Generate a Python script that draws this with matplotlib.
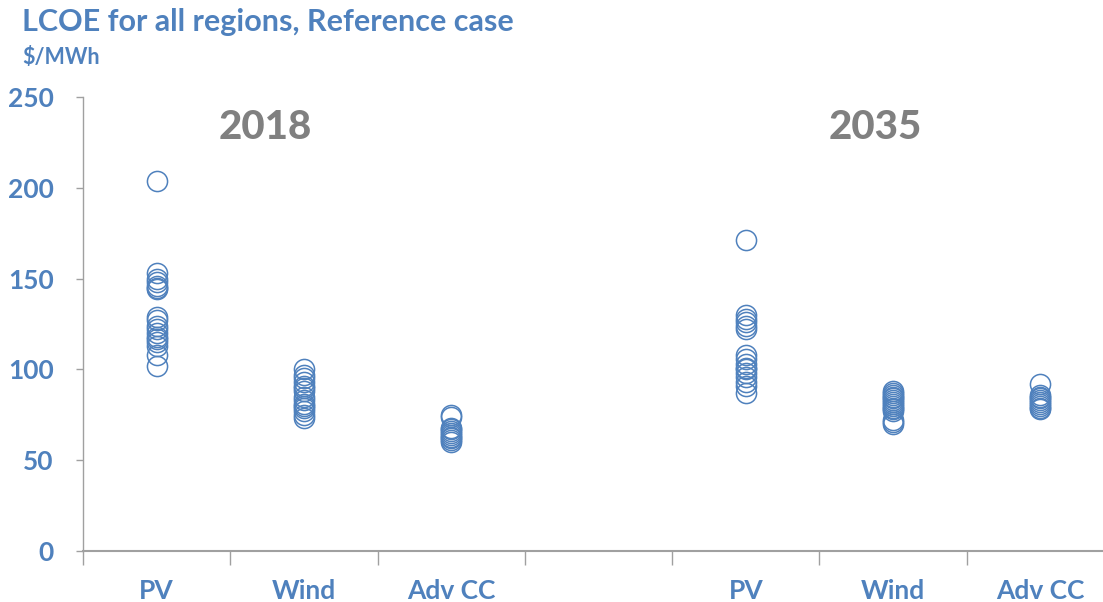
import matplotlib
matplotlib.use("Agg")
import matplotlib.pyplot as plt
import numpy as np

categories = ["PV", "Wind", "Adv CC", "", "PV", "Wind", "Adv CC"]
pv_2018 = [204, 153, 150, 148, 146, 145, 144, 129, 127, 124, 122, 120, 118, 117, 115, 113, 108, 102]
wind_2018 = [100, 97, 95, 93, 91, 90, 88, 85, 83, 81, 80, 79, 77, 75, 73]
advcc_2018 = [75, 74, 68, 67, 66, 65, 64, 63, 62, 61, 60]
pv_2035 = [171, 130, 128, 126, 124, 122, 108, 106, 103, 101, 100, 98, 96, 93, 91, 87]
wind_2035 = [88, 87, 86, 85, 84, 83, 82, 81, 80, 79, 78, 77, 72, 71, 70]
advcc_2035 = [92, 86, 85, 84, 83, 82, 81, 80, 79, 78]
groups = [pv_2018, wind_2018, advcc_2018, None, pv_2035, wind_2035, advcc_2035]
year_labels = ["2018", "2035"]
yticks = [0, 50, 100, 150, 200, 250]

blue = "#4F81BD"
gray_txt = "#808080"
font = ["Lato", "DejaVu Sans"]

fig = plt.figure(figsize=(11.03, 6.02), dpi=100)
ax = fig.add_axes([83/1103, 51/602, 1031/1103, 454/602])

for i, vals in enumerate(groups):
    if vals is None:
        continue
    ax.plot([i]*len(vals), vals, linestyle="none", marker="o", markersize=14.5,
            markerfacecolor="none", markeredgecolor=blue, markeredgewidth=1.1)

ax.set_xlim(-0.5, 6.5)
ax.set_ylim(0, 250)
ax.set_yticks(yticks)
ax.set_yticklabels([str(v) for v in yticks], color=blue, fontsize=19,
                   fontweight="bold", family=font)
ax.set_xticks(range(len(categories)))
ax.set_xticklabels(categories, color=blue, fontsize=19, fontweight="bold", family=font)
ax.set_xticks(np.arange(-0.5, 6.0, 1.0), minor=True)
ax.tick_params(axis="x", which="major", length=0, pad=20)
ax.tick_params(axis="x", which="minor", length=10, color="#A0A0A0", width=1)
ax.tick_params(axis="y", which="major", length=5, color="#A0A0A0", width=1, pad=16)

for s in ["top", "right"]:
    ax.spines[s].set_visible(False)
ax.spines["left"].set_color("#A0A0A0")
ax.spines["bottom"].set_color("#A0A0A0")
ax.spines["bottom"].set_linewidth(1.5)
ax.spines["left"].set_linewidth(1.0)

ax.text(0.74, 233, year_labels[0], ha="center", va="center", fontsize=29,
        fontweight="black", color=gray_txt, family=font)
ax.text(4.88, 233, year_labels[1], ha="center", va="center", fontsize=29,
        fontweight="black", color=gray_txt, family=font)

fig.text(22/1103, 1 - 22/602, "LCOE for all regions, Reference case", ha="left",
         va="center", fontsize=22, fontweight="bold", color=blue, family=font)
fig.text(22/1103, 1 - 57/602, "$/MWh", ha="left", va="center", fontsize=15.5,
         fontweight="bold", color=blue, family=font)

fig.savefig("out.png", dpi=100)
